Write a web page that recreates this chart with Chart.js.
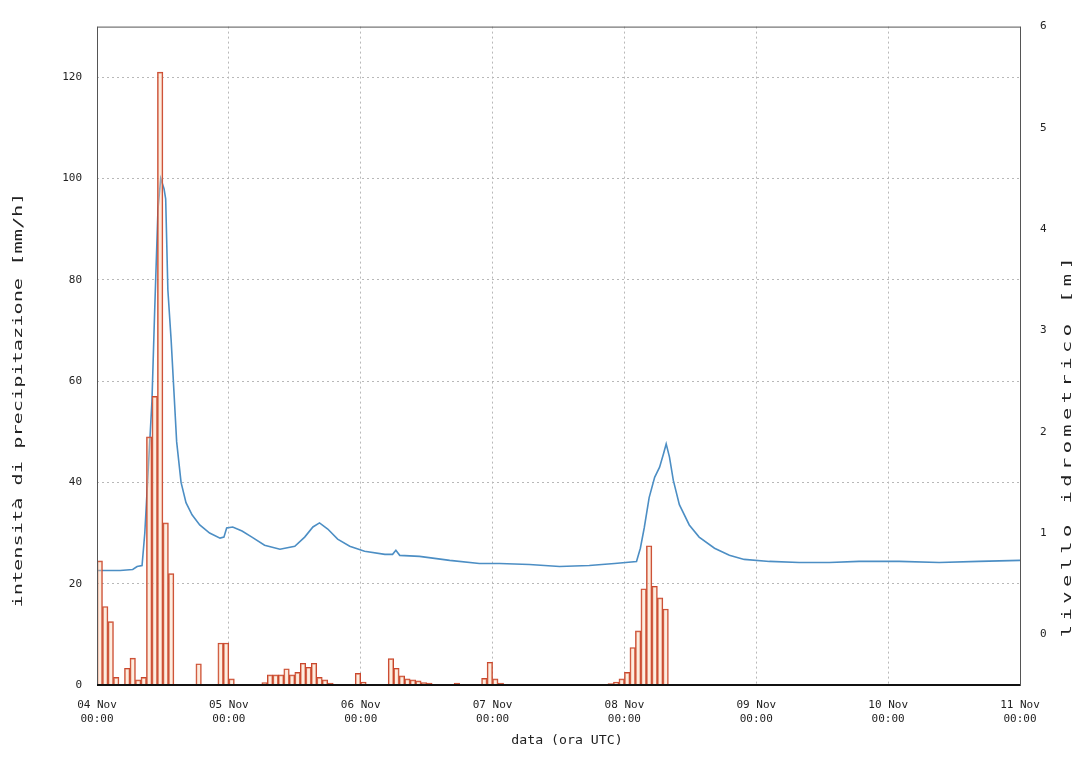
<!DOCTYPE html>
<html>
<head>
<meta charset="utf-8">
<script src="https://cdn.jsdelivr.net/npm/chart.js@4.4.1/dist/chart.umd.min.js"></script>
<style>
  body { margin: 0; background: #fff; }
  #wrap { width: 1084px; height: 771px; }
</style>
</head>
<body>
<div id="wrap"><canvas id="idroChart"></canvas></div>
<script>
// asse x in ore a partire da 04 Nov 00:00 UTC
var dayTicks = [0, 24, 48, 72, 96, 120, 144, 168];
var dayLabels = [['04 Nov', '00:00'], ['05 Nov', '00:00'], ['06 Nov', '00:00'], ['07 Nov', '00:00'],
                 ['08 Nov', '00:00'], ['09 Nov', '00:00'], ['10 Nov', '00:00'], ['11 Nov', '00:00']];
var rainTicks = [0, 20, 40, 60, 80, 100, 120];
var levelTicks = [0, 1, 2, 3, 4, 5, 6];

// pioggia oraria (ora di inizio, mm/h)
var rainHour = [0, 1, 2, 3, 5, 6, 7, 8, 9, 10, 11, 12, 13,
                18, 22, 23, 24,
                30, 31, 32, 33, 34, 35, 36, 37, 38, 39, 40, 41, 42,
                47, 48,
                53, 54, 55, 56, 57, 58, 59, 60,
                65,
                70, 71, 72, 73,
                93, 94, 95, 96, 97, 98, 99, 100, 101, 102, 103];
var rainMm = [24.5, 15.5, 12.5, 1.5, 3.3, 5.3, 1, 1.5, 49, 57, 121, 32, 22,
              4.2, 8.3, 8.3, 1.2,
              0.5, 2, 2, 2, 3.2, 2, 2.5, 4.3, 3.5, 4.3, 1.5, 1, 0.4,
              2.3, 0.6,
              5.2, 3.3, 1.8, 1.2, 1, 0.8, 0.5, 0.4,
              0.4,
              1.3, 4.5, 1.2, 0.4,
              0.3, 0.6, 1.2, 2.5, 7.4, 10.7, 19, 27.5, 19.5, 17.2, 15];

// livello idrometrico (ora, m)
var levelHour = [0, 4.2, 6.5, 7.3, 8.2, 8.7, 9.3, 10, 10.5, 11.1, 11.6, 12.2, 12.5, 12.9, 13.5, 14, 14.5,
                 15.3, 16.2, 17.3, 18.7, 20.5, 22.4, 23.1, 23.6, 24.7, 26.4, 28.2, 30.5, 33.3, 36,
                 37.8, 39.3, 40.5, 42, 43.8, 46, 48.7, 52.4, 53.8, 54.4, 55.1, 58.7, 64.2, 69.6,
                 73.3, 78.7, 84.2, 89.6, 94.2, 98.2, 98.9, 99.6, 100.5, 101.5, 102.4, 103.1, 103.6,
                 104.2, 104.9, 106, 107.8, 109.6, 112.4, 115.1, 117.8, 122.4, 127.8, 133.3, 138.7,
                 146, 153.3, 160.5, 168];
var levelM = [0.63, 0.63, 0.64, 0.67, 0.68, 1.0, 1.6, 2.3, 3.2, 4.2, 4.5, 4.4, 4.3, 3.4, 2.9, 2.4, 1.9,
              1.5, 1.3, 1.18, 1.08, 1.0, 0.95, 0.96, 1.05, 1.06, 1.02, 0.96, 0.88, 0.84, 0.87,
              0.96, 1.06, 1.1, 1.04, 0.94, 0.87, 0.82, 0.79, 0.79, 0.83, 0.78, 0.77, 0.73, 0.70,
              0.70, 0.69, 0.67, 0.68, 0.70, 0.72, 0.85, 1.05, 1.35, 1.55, 1.65, 1.78, 1.88,
              1.75, 1.52, 1.28, 1.08, 0.96, 0.85, 0.78, 0.74, 0.72, 0.71, 0.71, 0.72,
              0.72, 0.71, 0.72, 0.73];

var monoFont = { family: 'DejaVu Sans Mono', size: 11 };
var textColor = '#222';
var gridColor = '#b8b8b8';

// cornice e titoli degli assi, come nel grafico originale
var frameAndTitles = {
  id: 'frameAndTitles',
  afterDraw: function(chart) {
    var ctx = chart.ctx;
    var a = chart.chartArea;
    ctx.save();
    ctx.strokeStyle = '#555';
    ctx.lineWidth = 1;
    ctx.strokeRect(a.left + 0.5, a.top + 0.5, a.right - a.left, a.bottom - a.top);
    ctx.strokeStyle = '#111';
    ctx.lineWidth = 2;
    ctx.beginPath();
    ctx.moveTo(a.left, a.bottom);
    ctx.lineTo(a.right, a.bottom);
    ctx.stroke();

    ctx.fillStyle = textColor;
    ctx.textAlign = 'center';
    ctx.textBaseline = 'middle';

    // titoli verticali allungati per coprire la stessa lunghezza dell'originale
    var drawVertical = function(text, x, y, len) {
      ctx.save();
      ctx.font = '12px "DejaVu Sans Mono"';
      var w = ctx.measureText(text).width;
      var k = Math.min(len / w, 1.7);
      ctx.translate(x, y);
      ctx.rotate(-Math.PI / 2);
      ctx.scale(k, 1.05);
      ctx.letterSpacing = ((len - w * k) / (text.length - 1)) / k + 'px';
      ctx.fillText(text, 0, 0);
      ctx.restore();
    };
    drawVertical('intensità di precipitazione [mm/h]', 19, 400, 415);
    drawVertical('livello idrometrico [m]', 1068, 445, 380);

    ctx.save();
    ctx.font = '11px "DejaVu Sans Mono"';
    ctx.translate(567, 741);
    ctx.scale(1.2, 1.1);
    ctx.fillText('data (ora UTC)', 0, 0);
    ctx.restore();
    ctx.restore();
  }
};

var ctxIdro = document.getElementById('idroChart').getContext('2d');
var idroChart = new Chart(ctxIdro, {
  type: 'bar',
  data: {
    datasets: [{
      type: 'bar',
      label: 'intensità di precipitazione',
      data: rainHour.map(function(h, i) { return { x: h + 0.5, y: rainMm[i] }; }),
      backgroundColor: 'rgba(250, 210, 178, 0.4)',
      borderColor: '#c9462c',
      borderWidth: 1,
      barPercentage: 1,
      categoryPercentage: 1,
      yAxisID: 'y',
      order: 0
    }, {
      type: 'line',
      label: 'livello idrometrico',
      data: levelHour.map(function(h, i) { return { x: h, y: levelM[i] }; }),
      borderColor: '#4c8ec4',
      borderWidth: 1.6,
      pointRadius: 0,
      tension: 0,
      yAxisID: 'y1',
      order: 1
    }]
  },
  options: {
    responsive: true,
    maintainAspectRatio: false,
    animation: false,
    layout: { padding: { top: 22, left: 0, right: 0, bottom: 0 } },
    plugins: {
      legend: { display: false },
      tooltip: { enabled: false }
    },
    scales: {
      x: {
        type: 'linear',
        min: 0,
        max: 168,
        offset: false,
        afterBuildTicks: function(s) { s.ticks = dayTicks.map(function(v) { return { value: v }; }); },
        afterFit: function(s) { s.height = 86; },
        ticks: {
          autoSkip: false,
          maxRotation: 0,
          padding: 14,
          color: textColor,
          font: monoFont,
          callback: function(v) { return dayLabels[dayTicks.indexOf(v)]; }
        },
        grid: { color: gridColor, drawTicks: false, offset: false },
        border: { display: false, dash: [2, 3] }
      },
      y: {
        position: 'left',
        min: 0,
        max: 130,
        afterBuildTicks: function(s) { s.ticks = rainTicks.map(function(v) { return { value: v }; }); },
        afterFit: function(s) { s.width = 97; },
        ticks: { padding: 15, color: textColor, font: monoFont },
        grid: { color: gridColor, drawTicks: false },
        border: { display: false, dash: [2, 3] }
      },
      y1: {
        position: 'right',
        min: -0.5,
        max: 6,
        afterBuildTicks: function(s) { s.ticks = levelTicks.map(function(v) { return { value: v }; }); },
        afterFit: function(s) { s.width = 64; },
        ticks: { padding: 20, color: textColor, font: monoFont },
        grid: { drawOnChartArea: false, drawTicks: false },
        border: { display: false }
      }
    }
  },
  plugins: [frameAndTitles]
});
</script>
</body>
</html>
